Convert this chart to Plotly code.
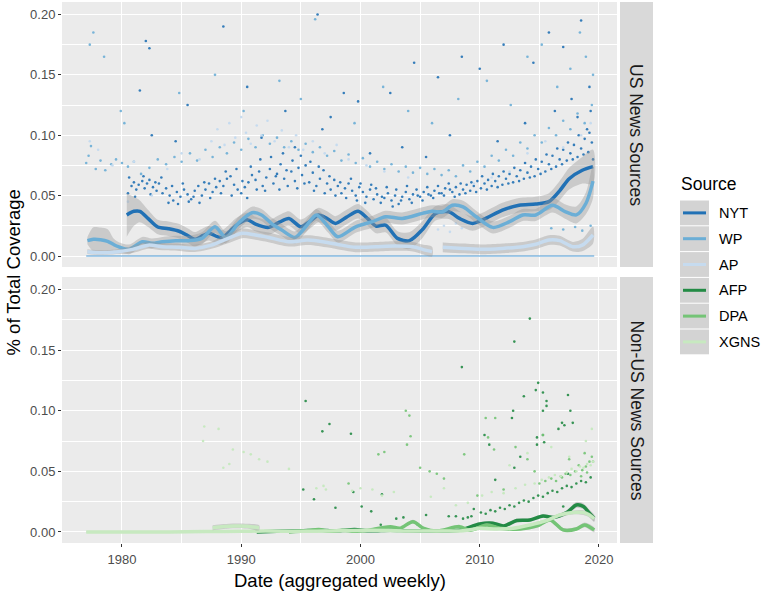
import plotly.graph_objects as go

# ---------------- data ----------------
sources_us = ["NYT", "WP", "AP"]
sources_nonus = ["AFP", "DPA", "XGNS"]
colors = {"NYT": "#2171B5", "WP": "#6BAED6", "AP": "#C6DBEF",
          "AFP": "#238B45", "DPA": "#74C476", "XGNS": "#C7E9C0"}

x_ticks = [1980, 1990, 2000, 2010, 2020]
y_ticks = [0.0, 0.05, 0.10, 0.15, 0.20]
y_tick_labels = ["0.00", "0.05", "0.10", "0.15", "0.20"]

# smoothed curves: (year, value, standard error)
nyt_smooth = [(1980.4, 0.034, 0.018), (1981.0, 0.037, 0.012), (1981.5, 0.037, 0.009), (1982.2, 0.031, 0.007),
              (1983.0, 0.024, 0.006), (1983.9, 0.0226, 0.006), (1984.8, 0.0205, 0.006), (1985.5, 0.017, 0.006),
              (1986.1, 0.0138, 0.006), (1986.8, 0.017, 0.006), (1987.3, 0.0188, 0.006), (1988.0, 0.016, 0.006),
              (1988.4, 0.0154, 0.006), (1989.0, 0.020, 0.006), (1989.5, 0.0248, 0.006), (1990.5, 0.030, 0.006),
              (1991.2, 0.0264, 0.006), (1992.3, 0.0237, 0.006), (1993.2, 0.028, 0.006), (1994.0, 0.0311, 0.006),
              (1995.0, 0.0242, 0.006), (1995.8, 0.029, 0.006), (1996.5, 0.034, 0.006), (1997.2, 0.031, 0.006),
              (1997.9, 0.027, 0.006), (1998.8, 0.032, 0.006), (1999.8, 0.037, 0.006), (2000.6, 0.031, 0.006),
              (2001.3, 0.0248, 0.006), (2002.1, 0.0256, 0.006), (2003.1, 0.0146, 0.006), (2004.1, 0.0127, 0.007),
              (2005.2, 0.022, 0.007), (2006.3, 0.0353, 0.006), (2007.4, 0.0366, 0.006), (2008.3, 0.0311, 0.006),
              (2009.4, 0.027, 0.006), (2010.5, 0.0311, 0.006), (2011.9, 0.038, 0.006), (2013.3, 0.042, 0.006),
              (2014.7, 0.043, 0.006), (2015.8, 0.045, 0.007), (2016.7, 0.054, 0.008), (2017.5, 0.064, 0.009),
              (2018.6, 0.071, 0.011), (2019.5, 0.074, 0.014)]
wp_smooth = [(1977.1, 0.0127, 0.003), (1977.6, 0.0138, 0.010), (1978.2, 0.0135, 0.010), (1978.8, 0.0122, 0.010),
             (1979.3, 0.0095, 0.005), (1979.7, 0.0077, 0.004), (1980.6, 0.0055, 0.004), (1981.7, 0.0118, 0.004),
             (1982.5, 0.0105, 0.004), (1983.4, 0.0118, 0.004), (1984.5, 0.0127, 0.004), (1985.6, 0.0127, 0.004),
             (1986.7, 0.0146, 0.005), (1987.8, 0.0242, 0.005), (1988.7, 0.0154, 0.005), (1989.8, 0.0275, 0.005),
             (1990.9, 0.0358, 0.005), (1991.7, 0.034, 0.005), (1992.6, 0.0264, 0.005), (1993.4, 0.0215, 0.005),
             (1994.5, 0.0154, 0.005), (1995.4, 0.0242, 0.005), (1996.3, 0.034, 0.005), (1997.3, 0.0242, 0.005),
             (1998.1, 0.016, 0.005), (1999.6, 0.0242, 0.005), (2001.0, 0.0284, 0.005), (2002.1, 0.0325, 0.005),
             (2003.5, 0.0311, 0.005), (2005.2, 0.0353, 0.005), (2006.0, 0.037, 0.005), (2006.9, 0.0366, 0.005),
             (2007.7, 0.042, 0.005), (2008.6, 0.0407, 0.005), (2009.7, 0.0325, 0.005), (2011.1, 0.0237, 0.005),
             (2012.5, 0.0284, 0.005), (2013.6, 0.034, 0.005), (2014.7, 0.034, 0.005), (2016.1, 0.042, 0.006),
             (2017.2, 0.0366, 0.006), (2018.1, 0.034, 0.007), (2018.9, 0.0435, 0.009), (2019.5, 0.062, 0.014)]
ap_smooth_a = [(1977.1, 0.0036, 0.002), (1978.2, 0.0028, 0.002), (1979.7, 0.0036, 0.002), (1980.9, 0.0055, 0.003),
               (1982.2, 0.009, 0.003), (1983.4, 0.0077, 0.003), (1984.8, 0.0072, 0.003), (1986.1, 0.0063, 0.003),
               (1987.5, 0.009, 0.003), (1988.9, 0.0146, 0.004), (1990.1, 0.0188, 0.004), (1991.2, 0.0174, 0.004),
               (1992.3, 0.0154, 0.004), (1994.0, 0.0118, 0.004), (1995.6, 0.0132, 0.004), (1997.3, 0.011, 0.004),
               (1998.4, 0.009, 0.004), (1999.6, 0.0072, 0.004), (2001.3, 0.0077, 0.004), (2002.9, 0.0083, 0.004),
               (2004.4, 0.0077, 0.004), (2005.2, 0.0055, 0.004), (2006.0, 0.0036, 0.004)]
ap_smooth_b = [(2006.9, 0.0072, 0.004), (2008.6, 0.0063, 0.004), (2010.3, 0.0055, 0.004), (2011.9, 0.0063, 0.004),
               (2013.6, 0.0077, 0.004), (2014.7, 0.0097, 0.004), (2015.8, 0.0132, 0.004), (2016.7, 0.0127, 0.004),
               (2017.8, 0.0077, 0.004), (2018.6, 0.009, 0.005), (2019.5, 0.0174, 0.007)]

afp_smooth = [(1991.3, 0.0, 0.001), (1993.0, 0.0005, 0.001), (1995.0, 0.001, 0.001), (1996.5, 0.0015, 0.001),
              (1998.0, 0.001, 0.001), (1999.5, 0.002, 0.001), (2000.8, 0.001, 0.001), (2002.5, 0.0015, 0.001),
              (2004.0, 0.001, 0.001), (2006.4, 0.0008, 0.001), (2008.3, 0.0014, 0.001), (2010.0, 0.0066, 0.0015),
              (2011.1, 0.0072, 0.0015), (2012.0, 0.005, 0.0015), (2013.1, 0.0094, 0.0015), (2014.2, 0.0099, 0.0015),
              (2015.3, 0.0132, 0.0015), (2016.2, 0.012, 0.0015), (2017.3, 0.016, 0.002), (2018.1, 0.0223, 0.0025),
              (2018.7, 0.021, 0.0025), (2019.2, 0.0154, 0.003), (2019.6, 0.0113, 0.003)]
dpa_smooth = [(1994.0, 0.0, 0.001), (1995.5, 0.001, 0.001), (1996.5, 0.002, 0.001), (1997.5, 0.0005, 0.001),
              (1998.5, 0.0015, 0.001), (1999.5, 0.0005, 0.001), (2000.8, 0.0017, 0.001), (2002.5, 0.0044, 0.001),
              (2003.3, 0.003, 0.001), (2004.4, 0.0085, 0.0015), (2005.3, 0.003, 0.001), (2006.4, 0.0008, 0.001),
              (2008.3, 0.0044, 0.001), (2009.2, 0.0014, 0.001), (2010.6, 0.0058, 0.0015), (2011.7, 0.003, 0.001),
              (2013.4, 0.0025, 0.001), (2014.8, 0.005, 0.0015), (2015.9, 0.0099, 0.0015), (2017.0, 0.0017, 0.0015),
              (2018.1, 0.0025, 0.0015), (2018.8, 0.0058, 0.002), (2019.6, 0.0017, 0.002)]
xgns_smooth = [(1977.0, 0.0, 0.0005), (1980.0, 0.0, 0.0005), (1984.0, 0.0, 0.0005), (1987.0, 0.0003, 0.0005),
               (1990.0, 0.0005, 0.0005), (1992.0, 0.0008, 0.0005), (1995.0, 0.0005, 0.0005), (1998.0, 0.001, 0.0005),
               (2000.8, 0.0014, 0.0008), (2005.0, 0.0008, 0.0008), (2008.6, 0.0011, 0.0008), (2010.0, 0.003, 0.001),
               (2011.4, 0.0025, 0.001), (2012.8, 0.003, 0.001), (2014.2, 0.0058, 0.001), (2015.6, 0.0094, 0.0012),
               (2016.7, 0.014, 0.0015), (2017.8, 0.016, 0.0015), (2018.7, 0.016, 0.002), (2019.2, 0.014, 0.002),
               (2019.6, 0.011, 0.002)]
xgns_smooth_early = [(1987.6, 0.0035, 0.002), (1988.5, 0.0045, 0.002), (1989.5, 0.005, 0.002),
                     (1990.5, 0.0048, 0.002), (1991.5, 0.0035, 0.002)]

# weekly observations at zero (US panel)
us_zero_years = [1977.0, 2019.6]
us_zero_values = [0.0, 0.0]

# weekly observations: (year, share)
nyt_points = [(1980.5, 0.052), (1980.8, 0.058), (1981.0, 0.061), (1981.2, 0.055), (1981.4, 0.059), (1981.7, 0.062),
              (1981.9, 0.056), (1982.1, 0.060), (1982.3, 0.063), (1982.6, 0.057), (1982.9, 0.054), (1983.1, 0.060),
              (1983.4, 0.052), (1983.7, 0.056), (1984.0, 0.050), (1984.3, 0.046), (1984.6, 0.053), (1984.9, 0.049),
              (1985.2, 0.055), (1985.5, 0.051), (1985.8, 0.047), (1986.1, 0.054), (1986.4, 0.058), (1986.7, 0.050),
              (1987.0, 0.055), (1987.3, 0.060), (1987.6, 0.053), (1987.9, 0.057), (1988.2, 0.062), (1988.5, 0.058),
              (1988.8, 0.064), (1989.1, 0.066), (1989.4, 0.059), (1989.7, 0.055), (1990.0, 0.052), (1990.3, 0.057),
              (1990.6, 0.061), (1990.9, 0.067), (1991.2, 0.063), (1991.5, 0.070), (1991.8, 0.058), (1992.1, 0.065),
              (1992.4, 0.072), (1992.7, 0.060), (1993.0, 0.068), (1993.3, 0.076), (1993.6, 0.064), (1993.9, 0.058),
              (1994.2, 0.070), (1994.5, 0.062), (1994.8, 0.073), (1995.1, 0.067), (1995.4, 0.075), (1995.7, 0.061),
              (1996.0, 0.069), (1996.3, 0.058), (1996.6, 0.064), (1996.9, 0.071), (1997.2, 0.060), (1997.5, 0.055),
              (1997.8, 0.063), (1998.1, 0.058), (1998.4, 0.052), (1998.7, 0.056), (1999.0, 0.060), (1999.3, 0.054),
              (1999.6, 0.050), (1999.9, 0.057), (2000.2, 0.053), (2000.5, 0.049), (2000.8, 0.055), (2001.1, 0.047),
              (2001.4, 0.051), (2001.7, 0.044), (2002.0, 0.048), (2002.3, 0.052), (2002.6, 0.046), (2002.9, 0.050),
              (2003.2, 0.043), (2003.5, 0.049), (2003.8, 0.053), (2004.1, 0.047), (2004.4, 0.051), (2004.7, 0.055),
              (2005.0, 0.049), (2005.3, 0.053), (2005.6, 0.057), (2005.9, 0.050), (2006.2, 0.054), (2006.5, 0.058),
              (2006.8, 0.052), (2007.1, 0.056), (2007.4, 0.060), (2007.7, 0.053), (2008.0, 0.057), (2008.3, 0.051),
              (2008.6, 0.055), (2008.9, 0.059), (2009.2, 0.054), (2009.5, 0.058), (2009.8, 0.062), (2010.1, 0.056),
              (2010.4, 0.060), (2010.7, 0.063), (2011.0, 0.058), (2011.3, 0.062), (2011.6, 0.066), (2011.9, 0.059),
              (2012.2, 0.064), (2012.5, 0.068), (2012.8, 0.061), (2013.1, 0.066), (2013.4, 0.071), (2013.7, 0.064),
              (2014.0, 0.069), (2014.3, 0.074), (2014.6, 0.066), (2014.9, 0.072), (2015.2, 0.078), (2015.5, 0.070),
              (2015.8, 0.076), (2016.1, 0.083), (2016.4, 0.074), (2016.7, 0.080), (2017.0, 0.088), (2017.3, 0.079),
              (2017.6, 0.085), (2017.9, 0.092), (2018.2, 0.082), (2018.5, 0.089), (2018.8, 0.097), (2019.1, 0.086),
              (2019.4, 0.094),
              (1981.5, 0.137), (1982.0, 0.178), (1982.3, 0.172), (1985.5, 0.125), (1988.5, 0.190), (1990.5, 0.140),
              (1993.7, 0.120), (1996.4, 0.200), (1997.5, 0.115), (1998.6, 0.135), (1999.8, 0.128), (2002.5, 0.135),
              (2004.5, 0.160), (2006.5, 0.148), (2008.5, 0.165), (2010.0, 0.155), (2012.0, 0.175), (2014.5, 0.160),
              (2015.8, 0.185), (2017.0, 0.173), (2018.5, 0.195), (2019.2, 0.140), (2019.3, 0.120),
              (1982.5, 0.100), (1984.5, 0.095), (1991.7, 0.098), (1994.5, 0.090), (1996.8, 0.105), (2000.8, 0.085),
              (2003.5, 0.090), (2005.5, 0.082), (2007.5, 0.100), (2011.5, 0.095), (2013.8, 0.110), (2016.3, 0.120),
              (2017.7, 0.130), (2018.2, 0.115), (2019.0, 0.105)]
nyt_points_more = [(1980.6, 0.065), (1981.1, 0.049), (1981.8, 0.066), (1982.4, 0.051), (1982.8, 0.061),
                   (1983.3, 0.065), (1983.9, 0.044), (1984.2, 0.058), (1984.7, 0.043), (1985.1, 0.060),
                   (1985.6, 0.045), (1986.0, 0.049), (1986.5, 0.044), (1986.9, 0.061), (1987.4, 0.048),
                   (1987.8, 0.064), (1988.3, 0.052), (1988.7, 0.070), (1989.2, 0.050), (1989.6, 0.072),
                   (1990.1, 0.062), (1990.5, 0.048), (1990.8, 0.074), (1991.3, 0.055), (1991.6, 0.080),
                   (1992.0, 0.054), (1992.5, 0.082), (1992.9, 0.066), (1993.2, 0.055), (1993.5, 0.085),
                   (1993.8, 0.071), (1994.3, 0.079), (1994.7, 0.056), (1995.0, 0.083), (1995.3, 0.060),
                   (1995.8, 0.078), (1996.1, 0.054), (1996.5, 0.074), (1997.0, 0.052), (1997.4, 0.066),
                   (1997.9, 0.050), (1998.3, 0.061), (1998.8, 0.048), (1999.2, 0.064), (1999.7, 0.046),
                   (2000.0, 0.060), (2000.4, 0.044), (2000.9, 0.059), (2001.3, 0.056), (2001.8, 0.049),
                   (2002.2, 0.057), (2002.7, 0.041), (2003.0, 0.055), (2003.4, 0.046), (2003.9, 0.058),
                   (2004.3, 0.044), (2004.8, 0.050), (2005.2, 0.046), (2005.7, 0.051), (2006.1, 0.048),
                   (2006.6, 0.052), (2007.0, 0.050), (2007.5, 0.055), (2007.9, 0.049), (2008.4, 0.060),
                   (2008.8, 0.052), (2009.3, 0.061), (2009.7, 0.053), (2010.2, 0.066), (2010.6, 0.055),
                   (2011.1, 0.068), (2011.5, 0.057), (2012.0, 0.070), (2012.4, 0.060), (2012.9, 0.073),
                   (2013.3, 0.062), (2013.8, 0.077), (2014.2, 0.065), (2014.7, 0.080), (2015.1, 0.068),
                   (2015.6, 0.084), (2016.0, 0.072), (2016.5, 0.089), (2016.9, 0.076), (2017.4, 0.094),
                   (2017.8, 0.080), (2018.3, 0.100), (2018.7, 0.084), (2019.2, 0.102), (2019.5, 0.080)]
wp_points = [(1977.0, 0.077), (1977.2, 0.083), (1977.4, 0.091), (1977.8, 0.072), (1978.2, 0.079), (1978.6, 0.071),
             (1979.1, 0.076), (1979.5, 0.080), (1980.0, 0.077), (1980.5, 0.074), (1981.0, 0.078), (1981.6, 0.068),
             (1982.3, 0.073), (1983.0, 0.080), (1983.7, 0.076), (1984.4, 0.082), (1985.0, 0.078), (1985.7, 0.085),
             (1986.3, 0.079), (1987.0, 0.088), (1987.6, 0.082), (1988.2, 0.090), (1988.8, 0.085), (1989.4, 0.094),
             (1990.0, 0.088), (1990.6, 0.097), (1991.2, 0.090), (1991.8, 0.100), (1992.4, 0.093), (1993.0, 0.098),
             (1993.6, 0.090), (1994.2, 0.095), (1994.8, 0.088), (1995.4, 0.093), (1996.0, 0.086), (1996.6, 0.090),
             (1997.2, 0.083), (1997.8, 0.087), (1998.4, 0.079), (1999.0, 0.084), (1999.6, 0.077), (2000.2, 0.081),
             (2000.8, 0.074), (2001.4, 0.078), (2002.0, 0.072), (2002.6, 0.076), (2003.2, 0.070), (2003.8, 0.074),
             (2004.4, 0.069), (2005.0, 0.073), (2005.6, 0.068), (2006.2, 0.072), (2006.8, 0.067), (2007.4, 0.071),
             (2008.0, 0.066), (2008.6, 0.075), (2009.2, 0.070), (2009.8, 0.078), (2010.4, 0.074), (2011.0, 0.083),
             (2011.6, 0.079), (2012.2, 0.088), (2012.8, 0.083), (2013.4, 0.094), (2014.0, 0.089), (2014.6, 0.100),
             (2015.2, 0.094), (2015.8, 0.106), (2016.4, 0.100), (2017.0, 0.112), (2017.6, 0.105), (2018.2, 0.118),
             (2018.8, 0.110), (2019.4, 0.125),
             (1977.3, 0.175), (1977.6, 0.185), (1978.5, 0.165), (1979.9, 0.120), (1980.2, 0.110), (1984.8, 0.135),
             (1987.8, 0.150), (1990.2, 0.120), (1993.2, 0.145), (1995.0, 0.130), (1996.2, 0.196), (1999.5, 0.110),
             (2001.9, 0.140), (2004.0, 0.120), (2006.0, 0.110), (2008.2, 0.130), (2010.6, 0.145), (2012.6, 0.125),
             (2014.0, 0.165), (2015.2, 0.175), (2016.5, 0.140), (2017.6, 0.155), (2018.4, 0.185), (2018.9, 0.165),
             (2019.5, 0.150), (2016.0, 0.023), (2017.0, 0.022), (2018.0, 0.024), (2018.6, 0.021), (2019.3, 0.025)]
ap_points = [(1977.3, 0.095), (1978.0, 0.088), (1979.2, 0.075), (1980.5, 0.045), (1981.0, 0.078), (1982.5, 0.050),
             (1983.8, 0.072), (1985.0, 0.085), (1986.5, 0.080), (1987.5, 0.095), (1988.0, 0.105), (1988.6, 0.092),
             (1989.0, 0.110), (1989.5, 0.098), (1990.0, 0.115), (1990.4, 0.102), (1990.8, 0.093), (1991.3, 0.108),
             (1991.7, 0.100), (1992.2, 0.112), (1992.8, 0.095), (1993.4, 0.104), (1994.0, 0.090), (1994.6, 0.100),
             (1995.2, 0.088), (1996.0, 0.095), (1997.0, 0.085), (1998.0, 0.092), (1999.0, 0.080), (2000.5, 0.075),
             (2002.0, 0.070), (2004.0, 0.065), (2006.5, 0.022), (2007.0, 0.025), (2007.5, 0.020), (2008.0, 0.027),
             (2008.5, 0.023), (2009.5, 0.060), (2011.0, 0.065), (2012.5, 0.070), (2014.0, 0.085), (2015.5, 0.095),
             (2017.0, 0.090), (2018.5, 0.100), (2019.3, 0.110)]

afp_points = [(1995.4, 0.108), (1997.4, 0.089), (1996.8, 0.083), (1999.2, 0.081), (1995.2, 0.035), (1996.1, 0.027),
              (1997.9, 0.020), (1999.4, 0.033), (2000.1, 0.021), (2000.9, 0.017), (2001.8, 0.031), (2001.7, 0.006),
              (2003.0, 0.011), (2003.6, 0.012), (2004.8, 0.006), (2005.5, 0.014), (2007.4, 0.013), (2008.0, 0.013),
              (2008.6, 0.011), (2009.0, 0.012), (2009.3, 0.013), (2009.5, 0.019), (2010.1, 0.016), (2010.5, 0.015),
              (2010.9, 0.018), (2011.3, 0.017), (2011.7, 0.020), (2012.1, 0.019), (2012.5, 0.022), (2012.9, 0.021),
              (2013.3, 0.024), (2013.7, 0.026), (2014.1, 0.025), (2014.5, 0.028), (2014.9, 0.030), (2015.3, 0.029),
              (2015.7, 0.032), (2016.1, 0.034), (2016.5, 0.033), (2016.9, 0.036), (2017.3, 0.038), (2017.7, 0.037),
              (2018.1, 0.040), (2018.5, 0.042), (2018.9, 0.041), (2019.3, 0.045), (2010.4, 0.080), (2010.8, 0.072),
              (2011.3, 0.043), (2012.7, 0.094), (2012.8, 0.100), (2012.9, 0.053), (2013.4, 0.062), (2013.7, 0.112),
              (2012.9, 0.157), (2014.2, 0.176), (2008.5, 0.136), (2014.7, 0.117), (2014.8, 0.078), (2015.3, 0.080),
              (2015.6, 0.108), (2015.6, 0.104), (2015.3, 0.100), (2014.8, 0.072), (2014.9, 0.123), (2015.3, 0.115),
              (2015.4, 0.074), (2016.6, 0.085), (2016.9, 0.090), (2017.1, 0.088), (2017.4, 0.113), (2017.6, 0.100),
              (2017.8, 0.090), (2017.4, 0.048), (2017.0, 0.021)]
dpa_points = [(2001.5, 0.064), (2002.0, 0.066), (2003.8, 0.100), (2004.1, 0.096), (2003.9, 0.072), (2004.2, 0.079),
              (2005.8, 0.050), (2006.4, 0.048), (2005.0, 0.053), (2008.7, 0.064), (2010.5, 0.094), (2011.3, 0.094),
              (2010.7, 0.078), (2011.2, 0.068), (2015.3, 0.080), (2016.4, 0.042), (2016.9, 0.045), (2013.0, 0.070),
              (2014.0, 0.060), (2017.5, 0.060), (2018.3, 0.055), (2018.8, 0.065), (2019.2, 0.058), (2019.4, 0.062),
              (2012.0, 0.035), (2014.6, 0.050), (2007.0, 0.044), (1999.0, 0.040), (2009.8, 0.030),
              (2015.0, 0.040), (2015.5, 0.042), (2016.0, 0.044), (2016.8, 0.046), (2017.2, 0.048), (2017.6, 0.047),
              (2018.0, 0.050), (2018.6, 0.051), (2018.9, 0.054), (2019.5, 0.058), (2019.0, 0.049), (2018.5, 0.046)]
xgns_points = [(1986.9, 0.087), (1986.8, 0.075), (1988.1, 0.085), (1988.5, 0.053), (1989.0, 0.056), (1989.3, 0.068),
               (1990.2, 0.066), (1990.8, 0.064), (1991.5, 0.060), (1992.2, 0.058), (1994.0, 0.052), (1996.3, 0.036),
               (1996.9, 0.038), (1997.1, 0.035), (1999.3, 0.034), (2000.0, 0.036), (2001.0, 0.035), (2001.8, 0.030),
               (2002.8, 0.033), (2005.9, 0.029), (2007.0, 0.036), (2010.2, 0.030), (2011.0, 0.033), (2012.0, 0.032),
               (2013.0, 0.036), (2013.8, 0.039), (2014.6, 0.040), (2015.2, 0.043), (2015.8, 0.045), (2016.3, 0.047),
               (2016.8, 0.046), (2017.3, 0.049), (2017.7, 0.052), (2018.1, 0.050), (2018.4, 0.054), (2018.7, 0.053),
               (2019.0, 0.056), (2019.3, 0.055), (2019.5, 0.058), (2016.0, 0.070), (2017.5, 0.062), (2018.9, 0.075),
               (2019.4, 0.085), (2014.0, 0.065), (2012.5, 0.055), (2009.0, 0.024), (2008.0, 0.022)]

# ---------------- layout geometry (pixels) ----------------
W, H = 762, 591
PL, PR, PT, PB = 62, 617, 2, 543          # plotting region (both panels)
TOP_PANEL = (2, 267)
BOT_PANEL = (277, 543)
X_RANGE = [1974.97, 2021.51]
Y_RANGE = [-0.0091, 0.2103]


def px(xp):
    return (xp - PL) / (PR - PL)


def py(yp):
    return (PB - yp) / (PB - PT)


fig = go.Figure()
RIBBON = "rgba(153,153,153,0.4)"


def add_points(pts, color, xa, ya, opacity=0.9):
    fig.add_trace(go.Scatter(x=[p[0] for p in pts], y=[p[1] for p in pts], mode="markers",
                             marker=dict(color=color, size=2.6, opacity=opacity, line=dict(width=0)),
                             xaxis=xa, yaxis=ya, showlegend=False, hoverinfo="skip"))


def add_smooth(rows, color, xa, ya):
    xs = [r[0] for r in rows]
    ys = [r[1] for r in rows]
    up = [r[1] + r[2] for r in rows]
    lo = [r[1] - r[2] for r in rows]
    fig.add_trace(go.Scatter(x=xs + xs[::-1], y=up + lo[::-1], mode="lines", fill="toself",
                             fillcolor=RIBBON, line=dict(width=0, shape="spline", smoothing=0.8),
                             xaxis=xa, yaxis=ya, showlegend=False, hoverinfo="skip"))
    fig.add_trace(go.Scatter(x=xs, y=ys, mode="lines",
                             line=dict(color=color, width=3.5, shape="spline", smoothing=0.8),
                             xaxis=xa, yaxis=ya, showlegend=False, hoverinfo="skip"))


# top panel (US) -> x2/y2
fig.add_trace(go.Scatter(x=us_zero_years, y=us_zero_values, mode="lines",
                         line=dict(color="#4A9AD6", width=1.2), xaxis="x2", yaxis="y2",
                         showlegend=False, hoverinfo="skip"))
add_points(nyt_points + nyt_points_more, colors["NYT"], "x2", "y2")
add_points(wp_points, colors["WP"], "x2", "y2")
add_points(ap_points, colors["AP"], "x2", "y2", 1.0)
add_smooth(nyt_smooth, colors["NYT"], "x2", "y2")
add_smooth(wp_smooth, colors["WP"], "x2", "y2")
add_smooth(ap_smooth_a, colors["AP"], "x2", "y2")
add_smooth(ap_smooth_b, colors["AP"], "x2", "y2")

# bottom panel (non-US) -> x/y
add_points(afp_points, colors["AFP"], "x", "y")
add_points(dpa_points, colors["DPA"], "x", "y")
add_points(xgns_points, colors["XGNS"], "x", "y", 1.0)
add_smooth(afp_smooth, colors["AFP"], "x", "y")
add_smooth(dpa_smooth, colors["DPA"], "x", "y")
add_smooth(xgns_smooth, colors["XGNS"], "x", "y")
add_smooth(xgns_smooth_early, colors["XGNS"], "x", "y")

FONT = "Liberation Sans, Arial, sans-serif"
tickfont = dict(family=FONT, size=13, color="#4D4D4D")
common_x = dict(range=X_RANGE, tickvals=x_ticks, ticktext=[str(v) for v in x_ticks],
                showgrid=True, gridcolor="white", gridwidth=1.1, zeroline=False, showline=False,
                minor=dict(tickvals=[1975, 1985, 1995, 2005, 2015], showgrid=True, gridcolor="white",
                           gridwidth=0.5, ticks=""))
common_y = dict(range=Y_RANGE, tickvals=y_ticks, ticktext=y_tick_labels, ticks="outside", ticklen=3,
                tickcolor="#333333", tickwidth=1, tickfont=tickfont, showgrid=True, gridcolor="white",
                gridwidth=1.1, zeroline=False, showline=False,
                minor=dict(tickvals=[0.025, 0.075, 0.125, 0.175], showgrid=True, gridcolor="white",
                           gridwidth=0.5, ticks=""))

fig.update_layout(
    width=W, height=H,
    margin=dict(l=PL, r=W - PR, t=PT, b=H - PB),
    paper_bgcolor="white", plot_bgcolor="#EBEBEB",
    font=dict(family=FONT, color="#1A1A1A"),
    showlegend=False,
    xaxis=dict(domain=[0, 1], anchor="y", ticks="outside", ticklen=3, tickcolor="#333333",
               tickfont=tickfont, ticklabelstandoff=1, **common_x),
    xaxis2=dict(domain=[0, 1], anchor="y2", matches="x", showticklabels=False, ticks="", **common_x),
    yaxis=dict(domain=[0, py(BOT_PANEL[0])], anchor="x", **common_y),
    yaxis2=dict(domain=[py(TOP_PANEL[1]), 1], anchor="x2", **common_y),
)

shapes = []
ann = []
# facet strips
for (t, b), label in [(TOP_PANEL, "US News Sources"), (BOT_PANEL, "Non-US News Sources")]:
    shapes.append(dict(type="rect", xref="paper", yref="paper", x0=px(620), x1=px(653),
                       y0=py(b), y1=py(t), fillcolor="#D9D9D9", line=dict(width=0), layer="below"))
    ann.append(dict(text=label, xref="paper", yref="paper", x=px(636.5), y=py((t + b) / 2),
                    showarrow=False, textangle=90, font=dict(family=FONT, size=17.5, color="#1A1A1A"),
                    xanchor="center", yanchor="middle"))

# axis titles
ann.append(dict(text="% of Total Coverage", xref="paper", yref="paper", x=px(13), y=py((PT + PB) / 2),
                showarrow=False, textangle=-90, font=dict(family=FONT, size=18.5, color="#000000"),
                xanchor="center", yanchor="middle"))
ann.append(dict(text="Date (aggregated weekly)", xref="paper", yref="paper", x=px((PL + PR) / 2), y=py(580),
                showarrow=False, font=dict(family=FONT, size=18.5, color="#000000"),
                xanchor="center", yanchor="middle"))

# legend (drawn manually to mimic ggplot key boxes)
ann.append(dict(text="Source", xref="paper", yref="paper", x=px(679), y=py(184), showarrow=False,
                font=dict(family=FONT, size=17.5, color="#000000"), xanchor="left", yanchor="middle"))
legend_order = sources_us + sources_nonus
row_h = 25.8
top0 = 200
for i, s in enumerate(legend_order):
    t = top0 + i * row_h
    b = t + row_h
    shapes.append(dict(type="rect", xref="paper", yref="paper", x0=px(680), x1=px(709),
                       y0=py(b - 0.5), y1=py(t + 0.5), fillcolor="#D3D3D3", line=dict(width=0)))
    shapes.append(dict(type="line", xref="paper", yref="paper", x0=px(683), x1=px(706),
                       y0=py((t + b) / 2), y1=py((t + b) / 2), line=dict(color=colors[s], width=3)))
    ann.append(dict(text=s, xref="paper", yref="paper", x=px(717), y=py((t + b) / 2), showarrow=False,
                    font=dict(family=FONT, size=14.5, color="#000000"), xanchor="left", yanchor="middle"))

fig.update_layout(shapes=shapes, annotations=ann)
fig.write_html("out.html", config={"displayModeBar": False},
               post_script="document.body.style.margin='0px';")
